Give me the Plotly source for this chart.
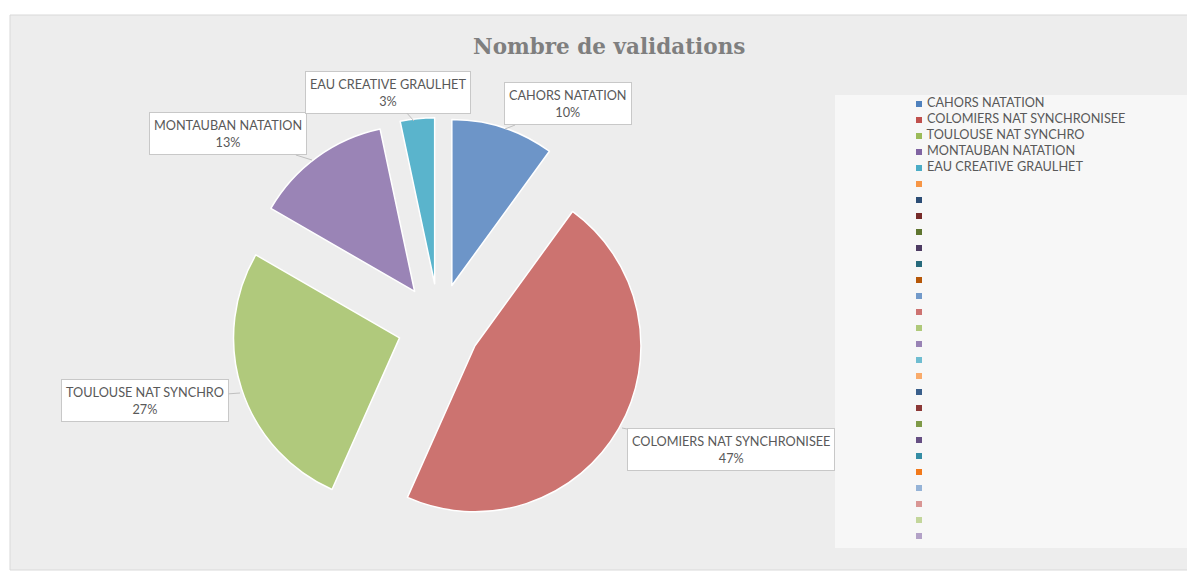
import plotly.graph_objects as go

# data
clubs = ["CAHORS NATATION", "COLOMIERS NAT SYNCHRONISEE", "TOULOUSE NAT SYNCHRO",
         "MONTAUBAN NATATION", "EAU CREATIVE GRAULHET"]
validations = [3, 14, 8, 4, 1]

# legend of the original sheet: 5 named series followed by 23 empty ones
legend_names = clubs + [""] * 23

slice_colors = ["#6d95c8", "#cc7370", "#b0c97c", "#9a84b6", "#5ab4cc"]
legend_colors = ["#4f81bd", "#c0504d", "#9bbb59", "#8064a2", "#4bacc6",
                 "#f79646", "#2c4d75", "#772c2a", "#5f7530", "#4d3b62",
                 "#276a7c", "#b65708", "#729aca", "#cd7371", "#afc97a",
                 "#9983b5", "#6fbdd1", "#f9ab6b", "#3a5f8b", "#8c3836",
                 "#7f9a48", "#664f83", "#358da5", "#f2791a", "#95b3d7",
                 "#d99694", "#c3d69b", "#b3a2c7"]

# the page body has an 8px margin, so the figure is 8px smaller and
# every pixel position below is given in page pixels and shifted
OFF = 8
W, H = 1195 - OFF, 572 - OFF


def px(x):
    return (x - OFF) / W


def py_(y):
    return (H - (y - OFF)) / H


total = sum(validations)

fig = go.Figure()

fig.add_trace(go.Pie(
    labels=clubs, values=validations, sort=False, direction="clockwise",
    pull=[0.25] * len(clubs), textinfo="none", showlegend=False,
    marker=dict(colors=slice_colors, line=dict(color="white", width=1.5)),
    domain=dict(x=[px(231.5), px(646.5)], y=[py_(532.5), py_(117.5)]),
))

# hand-made legend (Excel style, 16px rows)
fig.add_trace(go.Scatter(
    x=[0] * len(legend_names), y=list(range(len(legend_names))),
    mode="markers+text", text=["\u00a0" + n for n in legend_names],
    textposition="middle right",
    textfont=dict(family="Lato", size=12.7, color="#595959"),
    marker=dict(symbol="square", size=6, color=legend_colors),
    cliponaxis=False, showlegend=False, hoverinfo="skip",
))

# callout boxes: (box centre px, pointer tip px)
callouts = [((568, 104), (505, 129)),
            ((731, 449), (622, 428)),
            ((145, 400), (240, 393)),
            ((228, 134), (312, 160)),
            ((388, 92), (414, 121))]
annotations = []
for lab, v, (box, tip) in zip(clubs, validations, callouts):
    annotations.append(dict(
        x=px(tip[0]), y=py_(tip[1]), xref="paper", yref="paper",
        ax=box[0] - tip[0], ay=box[1] - tip[1],
        text=f"{lab}<br>{round(100 * v / total)}%",
        showarrow=True, arrowhead=0, arrowwidth=1, arrowcolor="#bfbfbf",
        bgcolor="white", bordercolor="#c8c8c8", borderwidth=1, borderpad=4,
        font=dict(family="Lato", size=12.7, color="#595959"),
    ))

annotations.append(dict(
    x=px(609), y=py_(46), xref="paper", yref="paper", showarrow=False,
    xanchor="center", yanchor="middle",
    text="<b>Nombre de validations</b>",
    font=dict(family="DejaVu Serif", size=21.5, color="#7f7f7f"),
))

shapes = [
    dict(type="rect", xref="paper", yref="paper", layer="below",
         x0=px(10), x1=px(1191), y0=py_(570), y1=py_(15),
         fillcolor="#ededed", line=dict(color="#d9d9d9", width=1)),
    dict(type="rect", xref="paper", yref="paper", layer="below",
         x0=px(835), x1=px(1190), y0=py_(548), y1=py_(95),
         fillcolor="#f7f7f7", line=dict(width=0)),
]

fig.update_layout(
    width=W, height=H, margin=dict(l=0, r=0, t=0, b=0),
    paper_bgcolor="white", plot_bgcolor="rgba(0,0,0,0)",
    xaxis=dict(domain=[px(919), 1], range=[0, 1], visible=False, fixedrange=True),
    yaxis=dict(domain=[py_(544), py_(96)], range=[27.5, -0.5],
               visible=False, fixedrange=True),
    annotations=annotations, shapes=shapes,
)

fig.write_html("out.html")
